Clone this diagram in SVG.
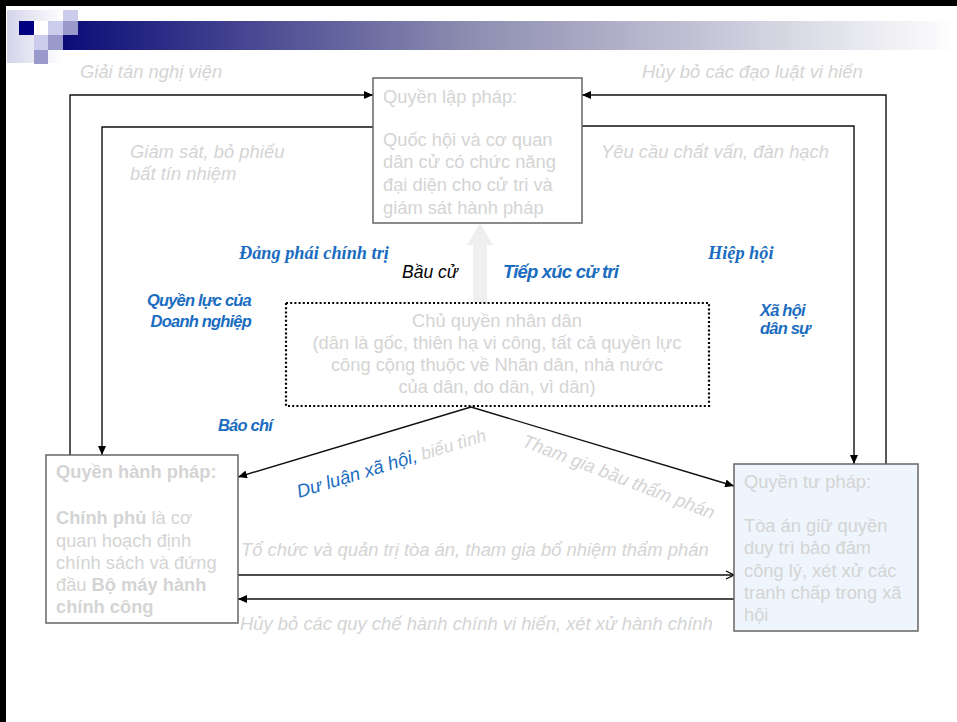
<svg xmlns="http://www.w3.org/2000/svg" width="957" height="722" viewBox="0 0 957 722">
<style>
.box{fill:#fff;stroke:#666;stroke-width:1.5}
.bt{font-family:"Liberation Sans",Arial,sans-serif;font-size:18.3px;fill:#d4d4d4}
.gl{font-family:"Liberation Sans",Arial,sans-serif;font-size:18.4px;font-style:italic;fill:#d4d4d4}
.bl{font-family:"Liberation Sans",Arial,sans-serif;font-weight:bold;font-style:italic;fill:#1a6cc0;font-size:16.5px;letter-spacing:-0.8px}
.bs{font-family:"Liberation Serif","Times New Roman",serif;font-weight:bold;font-style:italic;fill:#1a6cc0;font-size:18.3px}
.cn{fill:none;stroke:#111;stroke-width:1.4}
</style>
<defs>
<linearGradient id="bar" x1="0" y1="0" x2="1" y2="0">
<stop offset="0" stop-color="#0c0c78"/>
<stop offset="0.45" stop-color="#8c8cb0"/>
<stop offset="1" stop-color="#ffffff"/>
</linearGradient>
<linearGradient id="lg" x1="0" y1="0" x2="1" y2="0">
<stop offset="0" stop-color="#d4d4ea"/>
<stop offset="1" stop-color="#ffffff"/>
</linearGradient>
<marker id="af" markerUnits="userSpaceOnUse" markerWidth="9" markerHeight="8" refX="9" refY="4" orient="auto">
<path d="M0,0 L9,4 L0,8 z" fill="#000"/>
</marker>
<marker id="ao" markerUnits="userSpaceOnUse" markerWidth="10" markerHeight="10" refX="9" refY="5" orient="auto">
<path d="M1,1 L9,5 L1,9" fill="none" stroke="#000" stroke-width="1.3"/>
</marker>
</defs>
<rect x="0" y="0" width="957" height="722" fill="#fff"/>
<g id="frame">
<rect x="0" y="0" width="957" height="6" fill="#000"/>
<rect x="0" y="0" width="6" height="722" fill="#000"/>
</g>
<g id="header">
<rect x="7" y="10" width="56" height="53" fill="url(#lg)"/>
<rect x="63" y="21" width="894" height="29" fill="url(#bar)"/>
<rect x="19" y="21" width="15" height="14" fill="#000080"/>
<rect x="34" y="21" width="14" height="14" fill="#ffffff"/>
<rect x="48" y="21" width="15" height="14" fill="#ccccec"/>
<rect x="63" y="10" width="15" height="11" fill="#ccccec"/>
<rect x="63" y="21" width="15" height="14" fill="#9999cc"/>
<rect x="34" y="35" width="14" height="15" fill="#ccccec"/>
<rect x="48" y="35" width="15" height="15" fill="#9999cc"/>
<rect x="34" y="50" width="14" height="14" fill="#9999cc"/>
</g>
<g id="connectors">
<path class="cn" d="M70,455 V95 H373" marker-end="url(#af)"/>
<path class="cn" d="M373,127 H102 V455" marker-end="url(#af)"/>
<path class="cn" d="M886,464 V95 H582" marker-end="url(#af)"/>
<path class="cn" d="M582,126 H854 V464" marker-end="url(#af)"/>
<path class="cn" d="M471,407 L238,477" marker-end="url(#af)"/>
<path class="cn" d="M471,407 L734,486" marker-end="url(#af)"/>
<path class="cn" d="M238,575 H734" marker-end="url(#ao)"/>
<path class="cn" d="M734,599 H238" marker-end="url(#af)"/>
<path d="M473,303 V245 H467 L480,223 L493,245 H487 V303 z" fill="#efefef"/>
</g>
<g id="lap-phap">
<rect class="box" x="373" y="78" width="209" height="145"/>
<text class="bt" x="383" y="103">Quyền lập pháp:</text>
<text class="bt" x="383" y="146">Quốc hội và cơ quan</text>
<text class="bt" x="383" y="168">dân cử có chức năng</text>
<text class="bt" x="383" y="191">đại diện cho cử tri và</text>
<text class="bt" x="383" y="214">giám sát hành pháp</text>
</g>
<g id="hanh-phap">
<rect class="box" x="46" y="455" width="192" height="168"/>
<text class="bt" x="56" y="478" font-weight="bold">Quyền hành pháp:</text>
<text class="bt" x="56" y="524"><tspan font-weight="bold">Chính phủ</tspan> là cơ</text>
<text class="bt" x="56" y="547">quan hoạch định</text>
<text class="bt" x="56" y="569">chính sách và đứng</text>
<text class="bt" x="56" y="591">đầu <tspan font-weight="bold">Bộ máy hành</tspan></text>
<text class="bt" x="56" y="613" font-weight="bold">chính công</text>
</g>
<g id="tu-phap">
<rect class="box" x="734" y="464" width="184" height="167" style="fill:#eef5fc"/>
<text class="bt" x="744" y="488">Quyền tư pháp:</text>
<text class="bt" x="744" y="532">Tòa án giữ quyền</text>
<text class="bt" x="744" y="554">duy trì bảo đảm</text>
<text class="bt" x="744" y="577">công lý, xét xử các</text>
<text class="bt" x="744" y="599">tranh chấp trong xã</text>
<text class="bt" x="744" y="621">hội</text>
</g>
<g id="chu-quyen">
<rect x="286" y="303" width="423" height="103" fill="none" stroke="#000" stroke-width="2.2" stroke-dasharray="2 2.2"/>
<text class="bt" text-anchor="middle" x="497" y="327">Chủ quyền nhân dân</text>
<text class="bt" text-anchor="middle" x="497" y="349">(dân là gốc, thiên hạ vi công, tất cả quyền lực</text>
<text class="bt" text-anchor="middle" x="497" y="371">công cộng thuộc về Nhân dân, nhà nước</text>
<text class="bt" text-anchor="middle" x="497" y="393">của dân, do dân, vì dân)</text>
</g>
<g id="labels">
<text class="gl" x="80" y="78">Giải tán nghị viện</text>
<text class="gl" x="130" y="158">Giám sát, bỏ phiếu</text>
<text class="gl" x="130" y="180">bất tín nhiệm</text>
<text class="gl" x="642" y="78">Hủy bỏ các đạo luật vi hiến</text>
<text class="gl" x="601" y="158">Yêu cầu chất vấn, đàn hạch</text>
<text class="gl" x="241" y="556">Tổ chức và quản trị tòa án, tham gia bổ nhiệm thẩm phán</text>
<text class="gl" x="240" y="630">Hủy bỏ các quy chế hành chính vi hiến, xét xử hành chính</text>
<text class="bs" x="239" y="259">Đảng phái chính trị</text>
<text class="bs" x="708" y="259">Hiệp hội</text>
<text x="402" y="278" font-family="'Liberation Sans',Arial,sans-serif" font-style="italic" font-size="17.5px" fill="#000">Bầu cử</text>
<text class="bl" x="503" y="278" style="font-size:18.5px">Tiếp xúc cử tri</text>
<text class="bl" text-anchor="end" x="251" y="306">Quyền lực của</text>
<text class="bl" text-anchor="end" x="251" y="327">Doanh nghiệp</text>
<text class="bl" x="760" y="316">Xã hội</text>
<text class="bl" x="760" y="334">dân sự</text>
<text class="bl" x="218" y="431">Báo chí</text>
<text transform="translate(299,498) rotate(-17)" font-family="'Liberation Sans',Arial,sans-serif" font-style="italic" font-size="18.5px"><tspan fill="#1a6cc0">Dư luận xã hội,</tspan><tspan fill="#d4d4d4" font-size="17.5px"> biểu tình</tspan></text>
<text class="gl" transform="translate(521,446) rotate(21)">Tham gia bầu thẩm phán</text>
</g>
</svg>
